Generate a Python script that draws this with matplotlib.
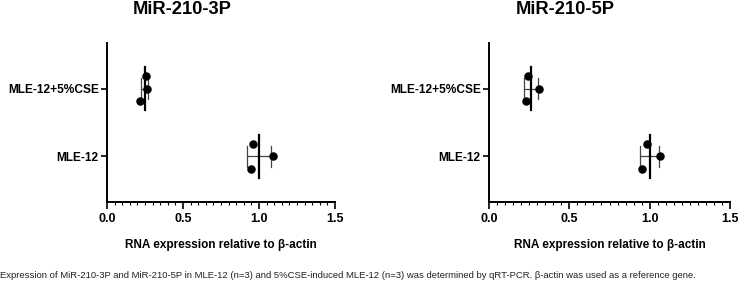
import numpy as np
import matplotlib
matplotlib.use("Agg")
import matplotlib.pyplot as plt
from matplotlib.ticker import MultipleLocator

plt.rcParams['font.family'] = ['Liberation Sans', 'DejaVu Sans']

groups = ["MLE-12", "MLE-12+5%CSE"]
titles = ["MiR-210-3P", "MiR-210-5P"]

# relative expression, three replicates per group
mir3p_mle = [0.958, 1.09, 0.95]
mir3p_cse = [0.255, 0.265, 0.22]
mir5p_mle = [0.981, 1.065, 0.952]
mir5p_cse = [0.244, 0.31, 0.231]

panels = [(mir3p_mle, mir3p_cse), (mir5p_mle, mir5p_cse)]
xticks = [0.0, 0.5, 1.0, 1.5]

caption = ("Expression of MiR-210-3P and MiR-210-5P in MLE-12 (n=3) and 5%CSE-induced MLE-12 (n=3) "
           "was determined by qRT-PCR. \u03b2-actin was used as a reference gene.")

fig = plt.figure(figsize=(7.38, 2.89), dpi=100)
rects = [[0.145, 0.301, 0.309, 0.550], [0.6626, 0.301, 0.3266, 0.550]]
title_x = [182 / 738, 565 / 738]

jitter = [0.18, 0.0, -0.18]

for rect, data, title, tx in zip(rects, panels, titles, title_x):
    ax = fig.add_axes(rect)
    for ypos, vals in enumerate(data, start=1):
        vals = np.array(vals)
        m = vals.mean()
        sd = vals.std(ddof=1)
        # mean line
        ax.plot([m, m], [ypos - 0.32, ypos + 0.32], color='black', lw=1.6, zorder=2)
        # SD bar with caps
        ax.plot([m - sd, m + sd], [ypos, ypos], color='#444444', lw=0.9, zorder=1)
        for e in (m - sd, m + sd):
            ax.plot([e, e], [ypos - 0.155, ypos + 0.155], color='#444444', lw=0.9, zorder=1)
        ax.scatter(vals, [ypos + j for j in jitter], s=26, color='black', zorder=3)

    ax.set_xlim(0, 1.5)
    ax.set_ylim(0.33, 2.67)
    ax.set_xticks(xticks)
    ax.set_xticklabels([f"{t:.1f}" for t in xticks], fontsize=9, fontweight='bold')
    ax.xaxis.set_minor_locator(MultipleLocator(0.05))
    ax.set_yticks([1, 2])
    ax.set_yticklabels(groups, fontsize=8.6, fontweight='bold')
    ax.tick_params(axis='x', which='major', length=5, width=1.2, pad=3)
    ax.tick_params(axis='x', which='minor', length=2.5, width=0.8)
    ax.tick_params(axis='y', length=4, width=1.2, pad=2)
    for s in ('top', 'right'):
        ax.spines[s].set_visible(False)
    for s in ('left', 'bottom'):
        ax.spines[s].set_linewidth(1.4)
    ax.set_xlabel("RNA expression relative to \u03b2-actin", fontsize=8.5, fontweight='bold', labelpad=10)
    fig.text(tx, 1 - 9 / 289, title, ha='center', va='center', fontsize=13.2, fontweight='bold')

fig.text(0.0, 1 - 275 / 289, caption, ha='left', va='center', fontsize=6.8,
         family=['Liberation Sans Narrow', 'Liberation Sans', 'DejaVu Sans'], color='#222222')

fig.savefig("out.png", dpi=100)
